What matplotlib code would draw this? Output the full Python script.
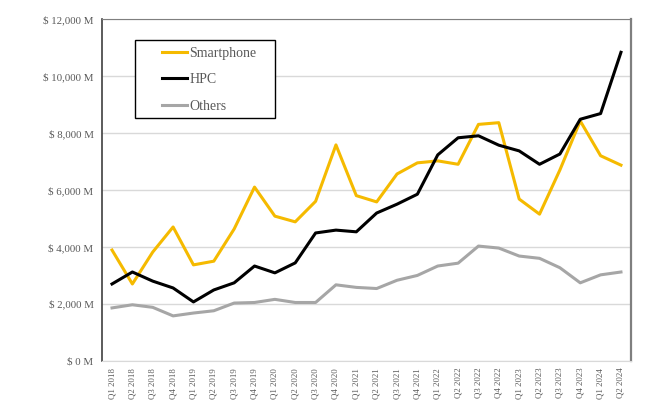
import matplotlib
matplotlib.use("Agg")
import matplotlib.pyplot as plt
from matplotlib.patches import Rectangle
from matplotlib.ticker import FuncFormatter

# quarterly revenue, $M
quarters = ["Q1 2018", "Q2 2018", "Q3 2018", "Q4 2018",
            "Q1 2019", "Q2 2019", "Q3 2019", "Q4 2019",
            "Q1 2020", "Q2 2020", "Q3 2020", "Q4 2020",
            "Q1 2021", "Q2 2021", "Q3 2021", "Q4 2021",
            "Q1 2022", "Q2 2022", "Q3 2022", "Q4 2022",
            "Q1 2023", "Q2 2023", "Q3 2023", "Q4 2023",
            "Q1 2024", "Q2 2024"]
smartphone = [3890, 2700, 3820, 4700, 3370, 3500, 4630, 6100,
              5080, 4880, 5600, 7580, 5800, 5580, 6560, 6950,
              7020, 6900, 8300, 8360, 5680, 5150, 6700, 8420,
              7200, 6870]
hpc = [2700, 3120, 2800, 2560, 2070, 2490, 2740, 3330,
       3090, 3440, 4490, 4590, 4530, 5190, 5500, 5850,
       7230, 7830, 7900, 7570, 7370, 6900, 7260, 8480,
       8680, 10830]
others = [1860, 1970, 1880, 1580, 1680, 1760, 2030, 2050,
          2160, 2050, 2050, 2670, 2580, 2540, 2830, 3000,
          3330, 3430, 4030, 3960, 3680, 3600, 3270, 2740,
          3020, 3120]

plt.rcParams['font.family'] = ['Liberation Serif', 'DejaVu Serif']
txt = '#595959'

fig = plt.figure(figsize=(6.7, 4.12), dpi=100)
ax = fig.add_axes([0.152, 0.124, 0.79, 0.83])

x = range(len(quarters))
ax.plot(x, smartphone, color='#F5BA00', lw=2.2, label='Smartphone')
ax.plot(x, hpc, color='black', lw=2.2, label='HPC')
ax.plot(x, others, color='#A6A6A6', lw=2.2, label='Others')

ax.set_ylim(0, 12000)
ax.set_yticks(range(0, 12001, 2000))
ax.yaxis.set_major_formatter(FuncFormatter(lambda v, p: '$ {:,.0f} M'.format(v)))
ax.set_xlim(-0.5, len(quarters) - 0.5)
ax.set_xticks(list(x))
ax.set_xticklabels(quarters, rotation=90, fontsize=6.3, color=txt)
ax.tick_params(axis='y', labelsize=7.8, labelcolor=txt, length=0, pad=6)
ax.tick_params(axis='x', length=0, pad=5)

ax.grid(axis='y', color='#D9D9D9', lw=1)
ax.set_axisbelow(True)
ax.spines['left'].set_color('#404040')
ax.spines['left'].set_linewidth(1.2)
ax.spines['top'].set_color('#7F7F7F')
ax.spines['right'].set_color('#7F7F7F')
ax.spines['right'].set_linewidth(1.6)
ax.spines['bottom'].set_color('#D9D9D9')

# legend box drawn by hand, entries without a frame
ax.add_patch(Rectangle((0.0624, 0.7105), 0.2646, 0.228, transform=ax.transAxes,
                       fill=True, facecolor='white', edgecolor='black', lw=1.0, zorder=5))
leg = ax.legend(loc='upper left', bbox_to_anchor=(0.113, 0.919), fontsize=10,
                frameon=False, handlelength=1.85, handletextpad=0.15,
                labelspacing=0.98, borderpad=0, borderaxespad=0)
leg.set_zorder(6)
for t in leg.get_texts():
    t.set_color(txt)

fig.savefig('out.png', dpi=100)
